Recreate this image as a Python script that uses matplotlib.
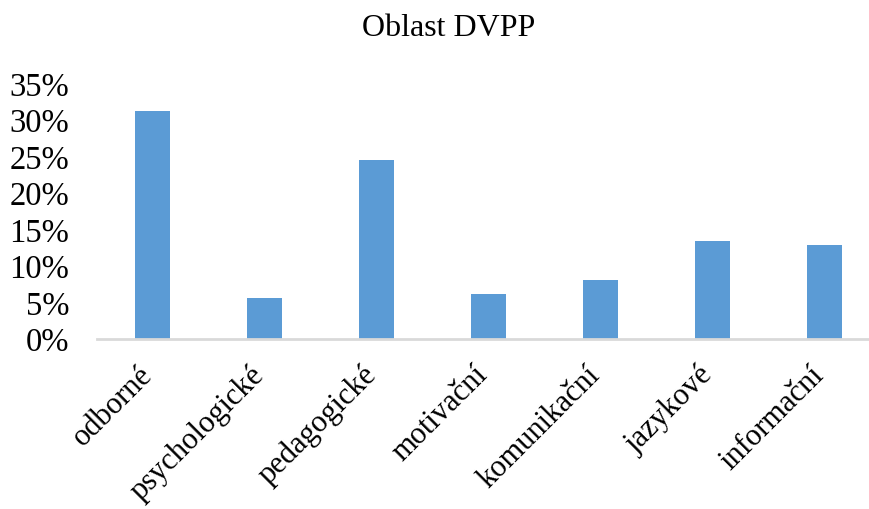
import matplotlib
matplotlib.use("Agg")
import matplotlib.pyplot as plt
import matplotlib.transforms as mtransforms
from matplotlib.ticker import FuncFormatter

categories = ["odborné", "psychologické", "pedagogické", "motivační", "komunikační", "jazykové", "informační"]
values = [0.312, 0.055, 0.245, 0.061, 0.080, 0.134, 0.128]
yticks = [0, 0.05, 0.10, 0.15, 0.20, 0.25, 0.30, 0.35]

plt.rcParams['font.family'] = ['Liberation Serif', 'DejaVu Serif']

fig = plt.figure(figsize=(8.7, 5.1), dpi=100)
# plot area: 112 px per category, starting at x=96.5 (extends past the right edge)
ax = fig.add_axes([96.5/870, 1 - 339.5/510, 784/870, 255.5/510])

x = list(range(len(categories)))
ax.bar(x, values, width=0.31, color="#5B9BD5", zorder=2)

ax.set_xlim(-0.5, len(categories) - 0.5)
ax.set_ylim(0, 0.35)
ax.set_yticks(yticks)
ax.yaxis.set_major_formatter(FuncFormatter(lambda v, p: f"{round(v*100)}%"))
ax.tick_params(axis='y', length=0, pad=19.5, labelsize=23.5)
ax.set_xticks(x)
ax.set_xticklabels([])
ax.tick_params(axis='x', length=0)

base = mtransforms.blended_transform_factory(ax.transData, ax.transAxes)
off = mtransforms.ScaledTranslation(-0.15, -0.21, fig.dpi_scale_trans)
for i, c in zip(x, categories):
    ax.text(i, 0, c, transform=base + off, rotation=45, ha='right', va='top',
            rotation_mode='anchor', fontsize=22, clip_on=False)

for s in ['top', 'right', 'left']:
    ax.spines[s].set_visible(False)
ax.spines['bottom'].set_color('#D9D9D9')
ax.spines['bottom'].set_linewidth(2)

fig.text(449/870, 1 - 29/510, "Oblast DVPP", ha='center', va='center', fontsize=23)

fig.savefig("out.png", dpi=100)
